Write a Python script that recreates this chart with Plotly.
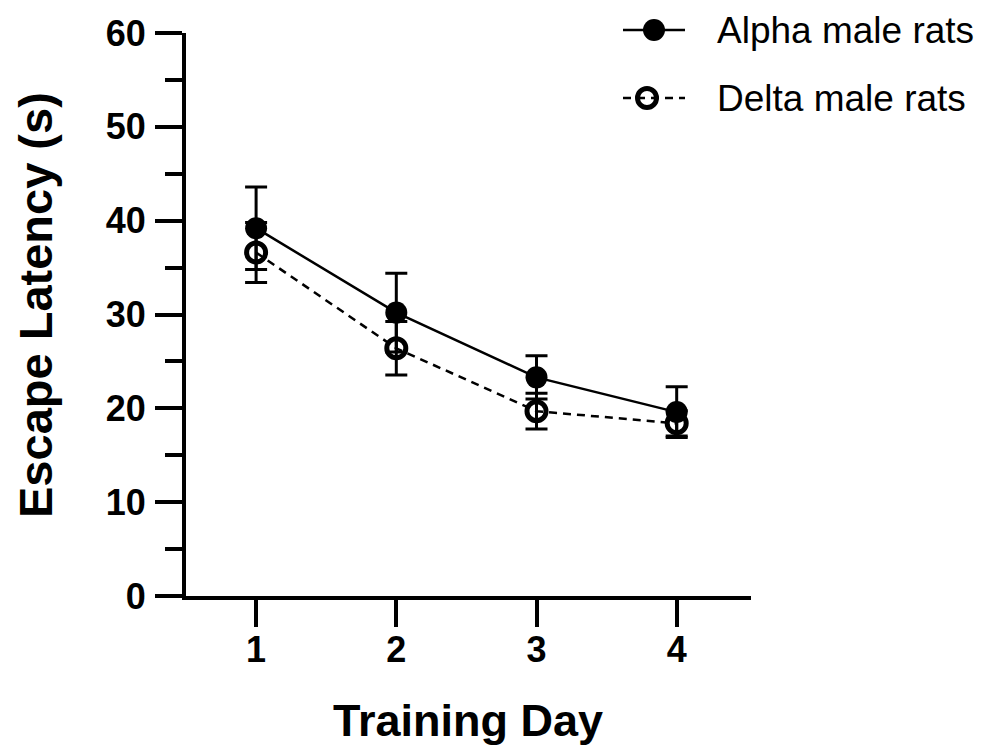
import plotly.graph_objects as go

# Morris water maze: escape latency across training days (mean ± SEM)
days = [1, 2, 3, 4]
alpha_mean = [39.2, 30.2, 23.3, 19.6]
alpha_sem = [4.4, 4.2, 2.3, 2.7]
delta_mean = [36.6, 26.4, 19.7, 18.4]
delta_sem = [3.2, 2.85, 1.9, 1.35]
series_names = ["Alpha male rats", "Delta male rats"]

y_ticks = [0, 10, 20, 30, 40, 50, 60]
x_ticks = [1, 2, 3, 4]

FONT = "Liberation Sans, Arial, sans-serif"
W, H = 982, 750
L, R, B = 186, 231, 154
Y_TOP = 33  # pixel row of the top of the y axis
PLOT_H = H - B
PLOT_W = W - L - R

fig = go.Figure()

# Delta group: open circles, dashed line
fig.add_trace(go.Scatter(
    x=days, y=delta_mean, mode="lines+markers", name=series_names[1],
    line=dict(color="black", width=2.5, dash="8px,6px"),
    marker=dict(symbol="circle-open", size=19, color="black",
                line=dict(color="black", width=5)),
    error_y=dict(type="data", array=delta_sem, symmetric=True,
                 color="black", thickness=3, width=11),
    cliponaxis=False, showlegend=False,
))

# Alpha group: filled circles, solid line
fig.add_trace(go.Scatter(
    x=days, y=alpha_mean, mode="lines+markers", name=series_names[0],
    line=dict(color="black", width=2.5),
    marker=dict(symbol="circle", size=22, color="black", line=dict(width=0)),
    error_y=dict(type="data", array=alpha_sem, symmetric=True,
                 color="black", thickness=3, width=11),
    cliponaxis=False, showlegend=False,
))

# Legend keys drawn on a separate, hidden axis pair measured in pixels
key_x = [623, 685]
key_rows = [(30, 654, "solid", "circle", 22, 0),
            (98, 647, "8px,6px", "circle-open", 19, 5)]
for (py, mx, dash, sym, size, lw), name in zip(key_rows, series_names):
    fig.add_trace(go.Scatter(
        x=key_x, y=[H - py, H - py], mode="lines", xaxis="x2", yaxis="y2",
        line=dict(color="black", width=2.5, dash=dash),
        cliponaxis=False, showlegend=False, hoverinfo="skip",
    ))
    fig.add_trace(go.Scatter(
        x=[mx], y=[H - py], mode="markers", xaxis="x2", yaxis="y2",
        marker=dict(symbol=sym, size=size, color="black",
                    line=dict(color="black", width=lw)),
        cliponaxis=False, showlegend=False, hoverinfo="skip",
    ))
    fig.add_annotation(
        x=715, y=H - py, xref="x2", yref="y2", text=name, showarrow=False,
        xanchor="left", yanchor="middle",
        font=dict(family=FONT, size=37, color="black"),
    )

axis_common = dict(
    showline=True, linecolor="black", linewidth=4,
    ticks="outside", tickcolor="black", tickwidth=4,
    showgrid=False, zeroline=False,
    tickfont=dict(family=FONT, size=36, color="black", weight=700),
)

fig.update_layout(
    width=W, height=H,
    margin=dict(l=L, r=R, t=0, b=B, autoexpand=False),
    paper_bgcolor="white", plot_bgcolor="rgba(0,0,0,0)",
    xaxis=dict(range=[0.5, 4.53], tickvals=x_ticks, ticklen=27,
               ticklabelstandoff=-8, **axis_common),
    yaxis=dict(range=[0, 60], tickvals=y_ticks, ticklen=27,
               domain=[0, (PLOT_H - Y_TOP) / PLOT_H],
               ticklabelstandoff=2,
               minor=dict(dtick=5, ticks="outside", ticklen=17,
                          tickwidth=4, tickcolor="black"),
               **axis_common),
    xaxis2=dict(domain=[0, 1], range=[L, W - R], visible=False,
                anchor="y2"),
    yaxis2=dict(domain=[0, 1], range=[B, H], visible=False,
                anchor="x2"),
)

# Axis titles
fig.add_annotation(
    x=(468 - L) / PLOT_W, y=0, xref="paper", yref="paper",
    yshift=-(720 - PLOT_H), text="Training Day", showarrow=False,
    xanchor="center", yanchor="middle",
    font=dict(family=FONT, size=45, color="black", weight=700),
)
fig.add_annotation(
    x=(35 - L) / PLOT_W, y=0.5, xref="paper", yref="paper",
    yshift=-(305 - PLOT_H / 2), text="Escape Latency (s)", showarrow=False,
    textangle=-90, xanchor="center", yanchor="middle",
    font=dict(family=FONT, size=47, color="black", weight=700),
)

fig.write_html("out.html")
